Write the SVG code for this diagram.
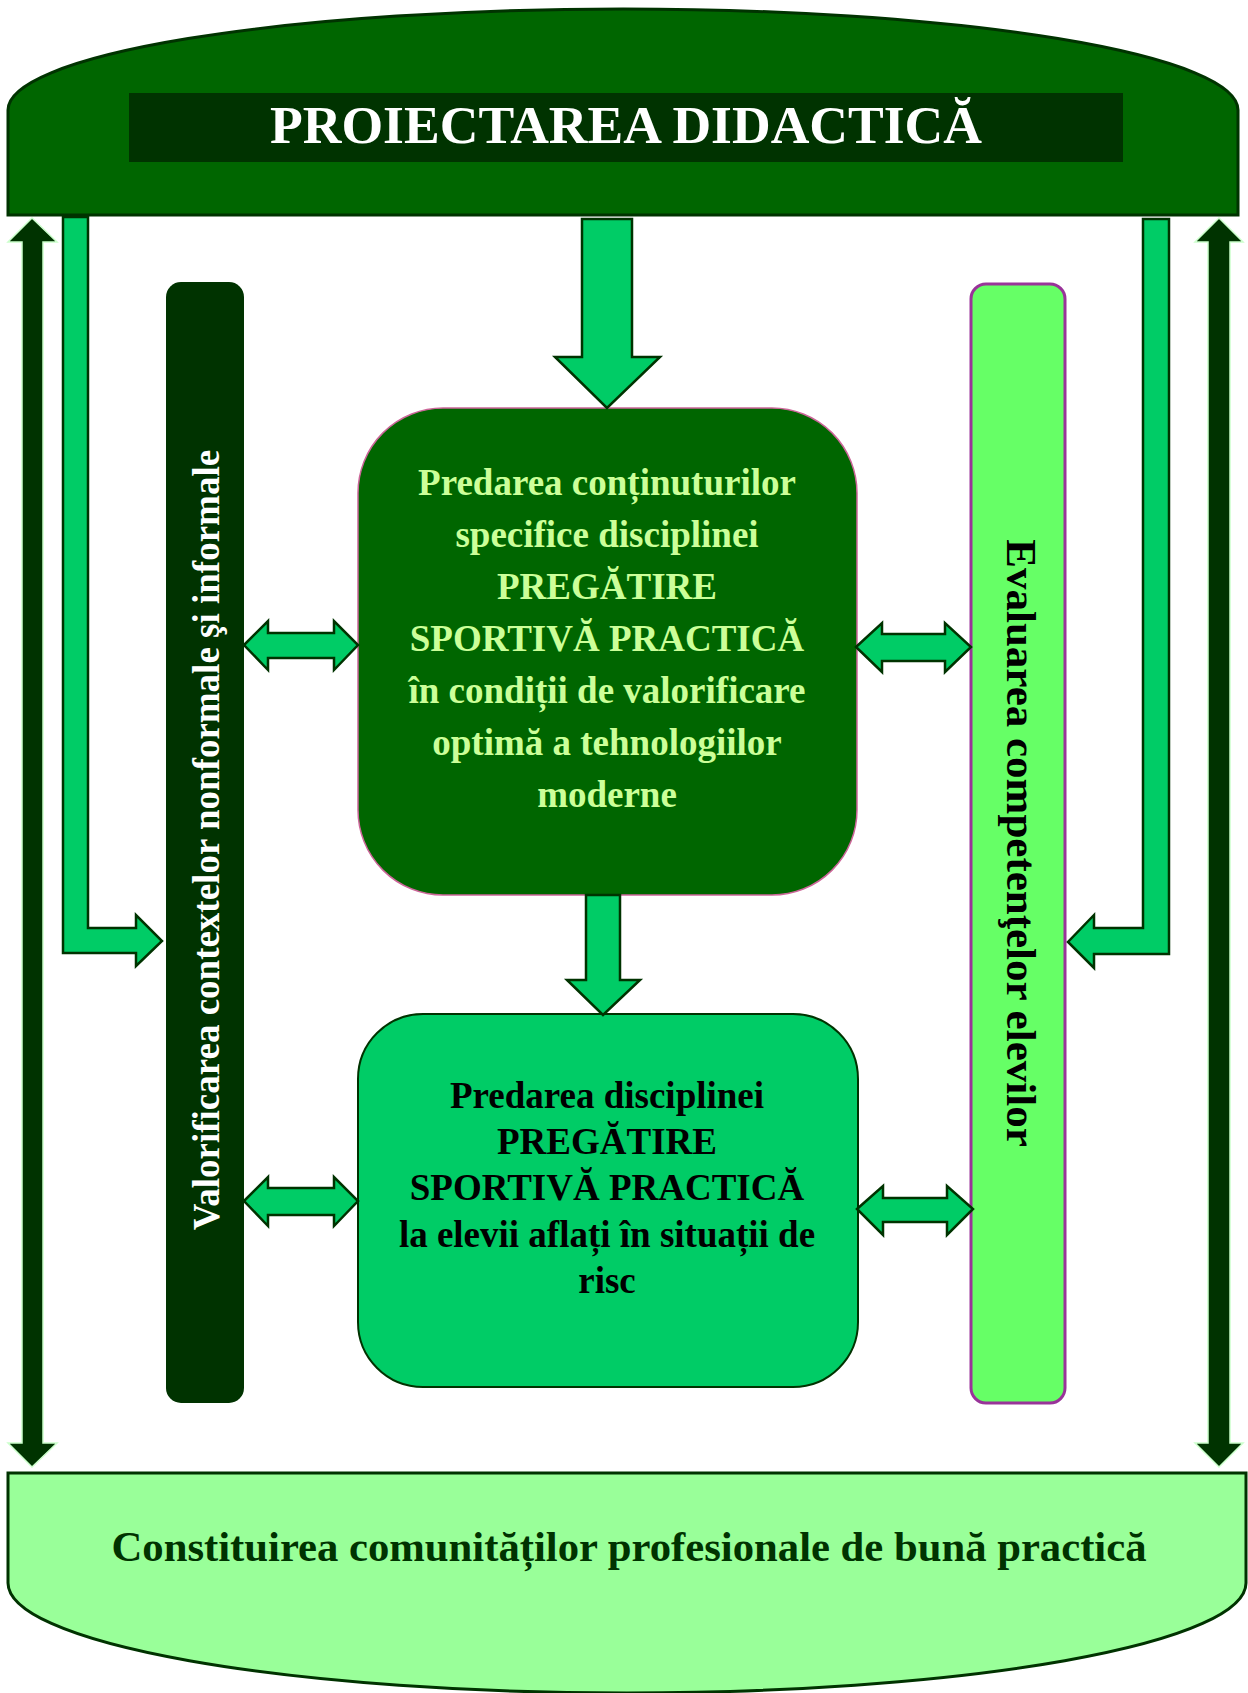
<svg xmlns="http://www.w3.org/2000/svg" width="1248" height="1693" viewBox="0 0 1248 1693">
<style>
.t{font-family:"Liberation Serif","Times New Roman",serif;font-weight:bold;text-anchor:middle}
.ga{fill:#00cc66;stroke:#003300;stroke-width:2.5;stroke-linejoin:miter}
.da{fill:#003300;stroke:#ccffcc;stroke-width:1.5}
</style>
<rect width="1248" height="1693" fill="#ffffff"/>
<g id="top">
<path d="M8,215 L8,110 A615,101 0 0 1 1238,110 L1238,215 Z" fill="#006600" stroke="#003300" stroke-width="3"/>
<rect x="129" y="93" width="994" height="69" fill="#003300"/>
<text class="t" x="626" y="143" font-size="53" fill="#ffffff" textLength="712" lengthAdjust="spacingAndGlyphs">PROIECTAREA DIDACTICĂ</text>
</g>
<g id="bottom">
<path d="M8,1473 L1246,1473 L1246,1583 A619,110 0 0 1 8,1583 Z" fill="#99ff99" stroke="#003300" stroke-width="3"/>
<text class="t" x="629" y="1561" font-size="42" fill="#003300" textLength="1035" lengthAdjust="spacingAndGlyphs">Constituirea comunităților profesionale de bună practică</text>
</g>
<g id="left-node">
<rect x="166" y="282" width="78" height="1121" rx="15" fill="#003300"/>
<text class="t" transform="translate(219,840) rotate(-90)" font-size="37" fill="#ffffff">Valorificarea contextelor nonformale şi informale</text>
</g>
<g id="right-node">
<rect x="971" y="284" width="94" height="1119" rx="15" fill="#66ff66" stroke="#993399" stroke-width="3"/>
<text class="t" transform="translate(1007,843) rotate(90)" font-size="43" fill="#000000">Evaluarea competenţelor elevilor</text>
</g>
<g id="center-node">
<rect x="358" y="408" width="499" height="487" rx="85" fill="#006600" stroke="#cc6699" stroke-width="1.5"/>
<g class="t" font-size="37" fill="#ccff99">
<text x="607" y="495">Predarea conținuturilor</text>
<text x="607" y="547">specifice disciplinei</text>
<text x="607" y="599">PREGĂTIRE</text>
<text x="607" y="651">SPORTIVĂ PRACTICĂ</text>
<text x="607" y="703">în condiții de valorificare</text>
<text x="607" y="755">optimă a tehnologiilor</text>
<text x="607" y="807">moderne</text>
</g>
</g>
<g id="lower-node">
<rect x="358" y="1014" width="500" height="373" rx="65" fill="#00cc66" stroke="#003300" stroke-width="2"/>
<g class="t" font-size="37" fill="#000000">
<text x="607" y="1108">Predarea disciplinei</text>
<text x="607" y="1154">PREGĂTIRE</text>
<text x="607" y="1200">SPORTIVĂ PRACTICĂ</text>
<text x="607" y="1247">la elevii aflați în situații de</text>
<text x="607" y="1293">risc</text>
</g>
</g>
<g id="connectors">
<path class="da" d="M32,218 L57,242 L43,242 L43,1443 L57,1443 L32,1467 L8,1443 L22,1443 L22,242 L8,242 Z"/>
<path class="da" d="M1219,218 L1243,242 L1230,242 L1230,1443 L1243,1443 L1219,1467 L1195,1443 L1208,1443 L1208,242 L1195,242 Z"/>
<path class="ga" d="M63,217 L88,217 L88,928 L136,928 L136,915 L162,941 L136,966 L136,953 L63,953 Z"/>
<path class="ga" d="M1169,219 L1143,219 L1143,928 L1094,928 L1094,915 L1068,942 L1094,968 L1094,954 L1169,954 Z"/>
<path class="ga" d="M582,219 L632,219 L632,357 L660,357 L607,408 L555,357 L582,357 Z"/>
<path class="ga" d="M586,895 L620,895 L620,980 L640,980 L603,1015 L567,980 L586,980 Z"/>
<path class="ga" d="M244,645 L268,621 L268,633 L334,633 L334,621 L358,645 L334,670 L334,658 L268,658 L268,670 Z"/>
<path class="ga" d="M244,1201 L268,1177 L268,1188 L334,1188 L334,1177 L358,1201 L334,1226 L334,1215 L268,1215 L268,1226 Z"/>
<path class="ga" d="M856,647 L882,623 L882,634 L945,634 L945,623 L971,647 L945,672 L945,661 L882,661 L882,672 Z"/>
<path class="ga" d="M857,1209 L883,1186 L883,1198 L947,1198 L947,1186 L973,1209 L947,1235 L947,1222 L883,1222 L883,1235 Z"/>
</g>
</svg>
